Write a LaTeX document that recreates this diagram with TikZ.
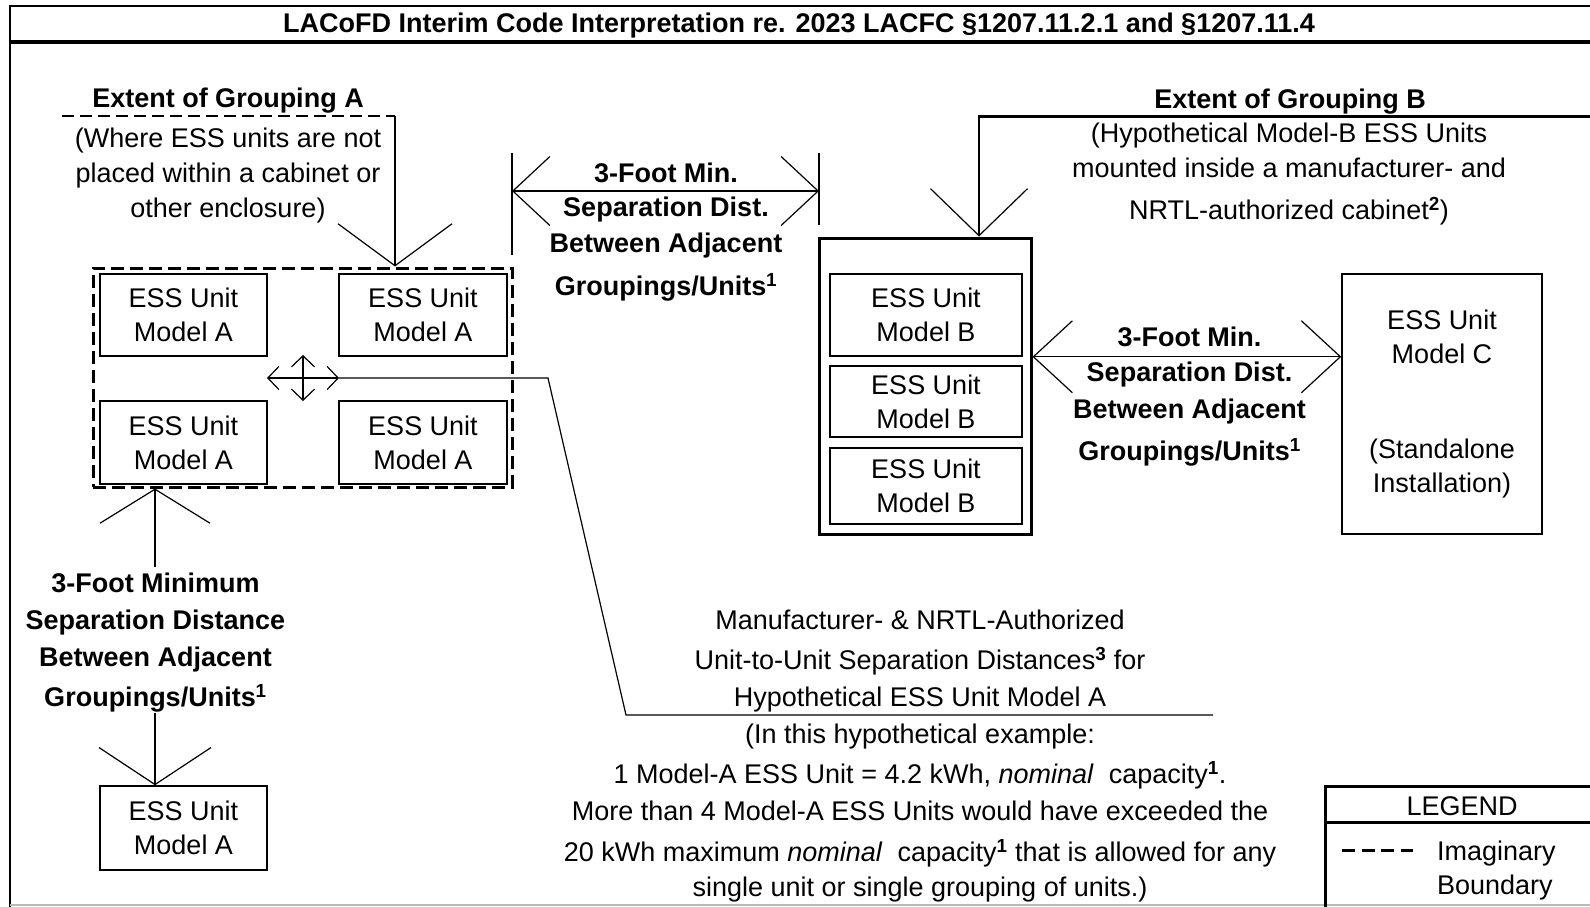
\documentclass[tikz,border=0pt]{standalone}
\usepackage{fontspec}
\setmainfont{Liberation Sans}
\usetikzlibrary{arrows.meta,calc}
\begin{document}
\begin{tikzpicture}[x=1pt,y=-1pt,
  txt/.style={inner sep=0pt, outer sep=0pt, align=center, font=\fontsize{27}{35}\selectfont},
  unit/.style={draw, line width=1.5pt, inner sep=0pt, align=center, font=\fontsize{27}{34}\selectfont},
  leader/.style={line width=1.2pt},
  smallboth/.style={line width=1.2pt, {Straight Barb[length=11pt,width=23pt]}-{Straight Barb[length=11pt,width=23pt]}},
  imag/.style={line width=3pt, dash pattern=on 13pt off 6pt}
]
\useasboundingbox (0,0) rectangle (1590,906);

% frame
\draw[line width=2pt] (1592,6) -- (9.5,6) -- (9.5,908);
\draw[line width=3.5pt] (9.5,42) -- (1592,42);
\draw[gray!55, line width=1.5pt] (9.5,905) -- (1592,905);
\node[txt, anchor=base] (title) at (799,32) {\bfseries LACoFD Interim Code Interpretation re. 2023 LACFC §1207.11.2.1 and §1207.11.4};

% grouping A
\node[draw, imag, minimum width=419pt, minimum height=219pt] (grpA) at (302.5,377.5) {};
\node[unit, minimum width=167pt, minimum height=82pt] (a1) at (183.5,315) {ESS Unit\\Model A};
\node[unit, minimum width=168pt, minimum height=82pt] (a2) at (423,315) {ESS Unit\\Model A};
\node[unit, minimum width=167pt, minimum height=83pt] (a3) at (183.5,442.5) {ESS Unit\\Model A};
\node[unit, minimum width=168pt, minimum height=83pt] (a4) at (423,442.5) {ESS Unit\\Model A};
\node[unit, minimum width=167pt, minimum height=84pt] (a5) at (183.5,828) {ESS Unit\\Model A};

\node[txt, anchor=base] (extA) at (228,107) {\bfseries Extent of Grouping A};
\node[txt, anchor=north] (parA) at (228,128.3) {(Where ESS units are not\\placed within a cabinet or\\other enclosure)};
\coordinate (gA0) at (62,116);
\coordinate (gA) at (395,116);
\draw[line width=2pt, dash pattern=on 12pt off 6pt] (gA0) -- (gA);
\draw[line width=1.2pt, -{Straight Barb[length=42pt,width=114pt]}] (gA) -- (gA |- grpA.north);

% cross symbol and leader to note
\coordinate (xl) at (267,378);
\coordinate (xr) at (339,378);
\coordinate (xt) at (303,355);
\coordinate (xb) at (303,401);
\coordinate (k1) at (548,378);
\coordinate (k2) at (626,715);
\coordinate (k3) at (1213,715);
\draw[smallboth] (xl) -- (xr);
\draw[smallboth] (xt) -- (xb);
\draw[leader] (xr) -- (k1) -- (k2) -- (k3);

% top middle dimension
\coordinate (e1a) at (512,153);
\coordinate (e1b) at (512,255);
\coordinate (e2a) at (819,153);
\coordinate (e2b) at (819,225);
\draw[leader] (e1a) -- (e1b);
\draw[leader] (e2a) -- (e2b);
\draw[line width=1.2pt, {Straight Barb[length=37pt,width=69pt]}-{Straight Barb[length=37pt,width=69pt]}] (e1a |- 0,191) -- (e2a |- 0,191);
\node[txt, anchor=north, font=\fontsize{27}{34}\selectfont\bfseries] (dimT) at (666,163)
  {3-Foot Min.\\Separation Dist.\\[2pt]Between Adjacent\\[9pt]Groupings/Units\textsuperscript{1}};

% grouping B
\node[draw, line width=3pt, minimum width=212pt, minimum height=296pt] (cab) at (925,386) {};
\node[unit, minimum width=192pt, minimum height=82pt] (b1) at (926,315) {ESS Unit\\Model B};
\node[unit, minimum width=192pt, minimum height=71pt] (b2) at (926,401.5) {ESS Unit\\Model B};
\node[unit, minimum width=192pt, minimum height=76pt] (b3) at (926,486) {ESS Unit\\Model B};
\node[txt, anchor=base] (extB) at (1290,108) {\bfseries Extent of Grouping B};
\node[txt, anchor=north] (parB) at (1289,123.3) {(Hypothetical Model-B ESS Units\\mounted inside a manufacturer- and\\[7pt]NRTL-authorized cabinet\textsuperscript{\textbf{2}})};
\coordinate (gB0) at (1592,116);
\coordinate (gB) at (979,116);
\draw[line width=3pt] (gB0) -- ([xshift=-1pt]gB);
\draw[line width=1.2pt, -{Straight Barb[length=47pt,width=97pt]}] (gB) -- (gB |- cab.north);

% model C
\node[unit, minimum width=200pt, minimum height=260pt] (c) at (1442,404) {ESS Unit\\Model C\\[61pt](Standalone\\Installation)};

% right dimension
\draw[line width=1.2pt, {Straight Barb[length=39pt,width=72pt]}-{Straight Barb[length=39pt,width=72pt]}] (cab.east |- b1.south) -- (c.west |- b1.south);
\node[txt, anchor=north, font=\fontsize{27}{35}\selectfont\bfseries] (dimR) at (1189.5,327)
  {3-Foot Min.\\Separation Dist.\\[2pt]Between Adjacent\\[7pt]Groupings/Units\textsuperscript{1}};

% left vertical dimension
\coordinate (lx) at (155,0);
\coordinate (l1) at (155,567);
\coordinate (l2) at (155,713);
\draw[line width=1.2pt, -{Straight Barb[length=34pt,width=110pt]}] (l1) -- (lx |- grpA.south);
\draw[line width=1.2pt, -{Straight Barb[length=37pt,width=112pt]}] (l2) -- (lx |- a5.north);
\node[txt, anchor=north, font=\fontsize{27}{37}\selectfont\bfseries] (dimL) at (155.5,573)
  {3-Foot Minimum\\Separation Distance\\Between Adjacent\\[3pt]Groupings/Units\textsuperscript{1}};

% note
\node[txt, anchor=north, font=\fontsize{27}{37}\selectfont] (note) at (920,609.5)
  {Manufacturer- \& NRTL-Authorized\\[3pt]
   Unit-to-Unit Separation Distances\textsuperscript{\textbf{3}} for\\[0pt]
   Hypothetical ESS Unit Model A\\
   (In this hypothetical example:\\[3pt]
   1 Model-A ESS Unit = 4.2 kWh, \textit{nominal}\ \ capacity\textsuperscript{\textbf{1}}.\\
   More than 4 Model-A ESS Units would have exceeded the\\[4pt]
   20 kWh maximum \textit{nominal}\ \ capacity\textsuperscript{\textbf{1}} that is allowed for any\\[-2pt]
   single unit or single grouping of units.)};

% legend
\draw[line width=3pt] (1592,786) -- (1325,786) -- (1325,908);
\draw[line width=3pt] (1325,822) -- (1592,822);
\node[txt, anchor=base] (leg) at (1462,815) {LEGEND};
\coordinate (ld1) at (1342,850);
\coordinate (ld2) at (1413,850);
\draw[line width=3pt, dash pattern=on 13pt off 6.5pt] (ld1) -- (ld2);
\node[txt, anchor=north west, align=left, font=\fontsize{27}{34}\selectfont] (legt) at (1437,840.7) {Imaginary\\Boundary};
\end{tikzpicture}
\end{document}
